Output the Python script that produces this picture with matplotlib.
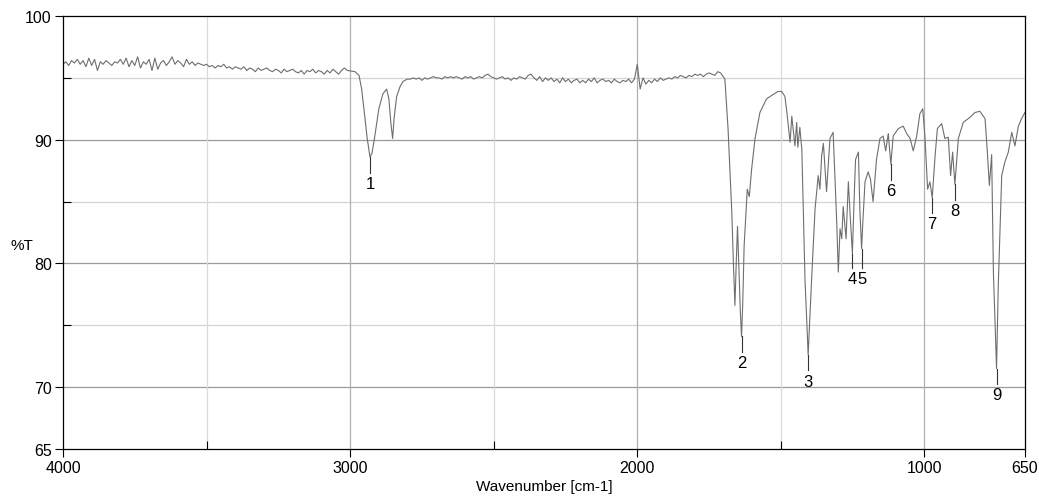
import numpy as np
import matplotlib
matplotlib.use('Agg')
import matplotlib.pyplot as plt
from matplotlib.ticker import MultipleLocator

plt.rcParams['font.family'] = ['Liberation Sans', 'DejaVu Sans']

# ---- spectrum data ----
# noisy baseline 4000 -> 3010 cm-1, 10 cm-1 steps
base_a_wn = np.arange(4000, 3000, -10)
base_a_t = [
    96.1, 96.3, 96.0, 96.4, 96.2, 96.5, 96.1, 96.4, 95.9, 96.6,
    96.0, 96.5, 95.6, 96.3, 96.1, 96.4, 96.2, 96.0, 96.3, 96.2,
    96.5, 96.1, 96.6, 95.9, 96.4, 96.0, 96.7, 95.8, 96.3, 96.1,
    96.5, 95.6, 96.6, 95.7, 96.2, 96.4, 96.0, 96.3, 96.7, 96.1,
    96.4, 96.2, 95.9, 96.5, 96.1, 96.3, 96.0, 96.2, 96.1, 96.0,
    96.1, 95.9, 96.0, 95.8, 96.0, 95.9, 96.1, 95.8, 95.9, 95.7,
    95.9, 95.8, 95.7, 95.9, 95.6, 95.8, 95.7, 95.5, 95.8, 95.6,
    95.7, 95.8, 95.6, 95.5, 95.7, 95.6, 95.4, 95.7, 95.5, 95.6,
    95.7, 95.5, 95.4, 95.6, 95.3, 95.6, 95.5, 95.7, 95.4, 95.6,
    95.5, 95.3, 95.6, 95.4, 95.7, 95.5, 95.3, 95.6, 95.8, 95.6,
]

# C-H stretch region
ch_wn = [2983, 2969, 2960, 2952, 2941, 2931, 2924, 2914, 2900, 2886,
         2873, 2865, 2858, 2852, 2847, 2838, 2826, 2816, 2802]
ch_t = [95.5, 95.2, 94.1, 92.5, 90.2, 88.6, 88.9, 90.3, 92.5, 93.7,
        94.1, 93.3, 91.3, 90.1, 91.7, 93.5, 94.3, 94.7, 94.9]

# flat baseline 2790 -> 1720 cm-1
base_b_wn = np.arange(2790, 1710, -10)
base_b_t = [
    94.9, 95.0, 94.9, 95.0, 94.8, 95.0, 94.9, 95.0, 95.1, 95.0,
    95.0, 94.9, 95.1, 95.0, 95.1, 95.0, 95.1, 95.0, 94.9, 95.1,
    95.0, 95.1, 94.9, 95.0, 95.1, 95.0, 95.2, 95.3, 95.1, 95.0,
    94.9, 95.0, 95.1, 94.9, 95.0, 94.8, 95.0, 94.9, 95.1, 95.0,
    94.9, 95.2, 95.3, 95.0, 94.8, 95.1, 94.7, 95.0, 94.8, 95.0,
    94.7, 94.9, 94.6, 95.0, 94.7, 94.9, 94.6, 94.8, 94.9, 94.6,
    94.8, 94.6, 94.9, 94.7, 95.0, 94.6, 94.8, 94.9, 94.7, 94.8,
    94.6, 94.9, 94.7, 94.6, 94.8, 94.7, 94.9, 94.6, 94.9, 96.1,
    94.1, 95.0, 94.5, 94.8, 94.6, 94.9, 94.7, 95.0, 94.8, 94.9,
    95.0, 94.9, 95.1, 95.0, 95.2, 95.1, 95.0, 95.2, 95.1, 95.3,
    95.2, 95.3, 95.1, 95.3, 95.4, 95.3, 95.2, 95.5,
]

# fingerprint region
fp_wn = [1710, 1695, 1684, 1671, 1665, 1660, 1655, 1651, 1646, 1641,
         1637, 1633, 1628, 1617, 1610, 1602, 1590, 1573, 1550, 1531,
         1510, 1497, 1486, 1479, 1468, 1462, 1451, 1445, 1441, 1434,
         1427, 1416, 1405, 1393, 1381, 1370, 1364, 1358, 1352, 1341,
         1329, 1318, 1306, 1300, 1294, 1288, 1283, 1273, 1265, 1259,
         1251, 1245, 1240, 1230, 1225, 1219, 1214, 1207, 1196, 1188,
         1179, 1167, 1155, 1144, 1135, 1126, 1117, 1109, 1091, 1074,
         1062, 1050, 1039, 1027, 1016, 1006, 998, 989, 981, 973,
         963, 955, 940, 929, 917, 909, 902, 894, 882, 865,
         842, 824, 807, 789, 781, 774, 766, 760, 749, 743,
         731, 720, 708, 696, 685, 673, 662, 650]
fp_t = [95.4, 94.9, 90.9, 84.2, 79.8, 76.6, 80.4, 83.0, 79.6, 76.0,
        74.1, 76.6, 81.4, 86.0, 85.4, 87.6, 90.1, 92.2, 93.3, 93.6,
        93.9, 93.9, 93.5, 92.2, 89.8, 91.9, 89.5, 91.4, 89.4, 91.0,
        89.2, 78.7, 72.6, 78.7, 84.4, 87.1, 86.0, 88.7, 89.7, 85.8,
        90.1, 90.6, 83.6, 79.3, 82.8, 82.0, 84.6, 82.0, 86.6, 84.0,
        80.8, 85.2, 88.4, 89.0, 84.4, 81.2, 83.6, 86.6, 87.4, 86.8,
        85.0, 88.4, 90.1, 90.3, 89.1, 90.5, 88.0, 90.3, 90.9, 91.1,
        90.5, 90.1, 89.1, 90.3, 92.1, 92.5, 90.1, 86.0, 86.6, 85.3,
        88.7, 90.9, 91.3, 90.1, 90.2, 87.1, 89.0, 86.4, 90.1, 91.4,
        91.8, 92.2, 92.3, 91.7, 89.0, 86.3, 88.8, 79.3, 71.5, 78.2,
        87.1, 88.2, 89.0, 90.6, 89.5, 91.1, 91.7, 92.2]

# numbered peaks (4 and 5 share one label row)
peak_no = ['1', '2', '3', '4', '5', '6', '7', '8', '9']
peak_wn = [2931, 1637, 1405, 1251, 1219, 1117, 973, 894, 749]
peak_t = [88.6, 74.1, 72.6, 80.8, 81.2, 88.0, 85.3, 86.4, 71.5]
label_t = [87.1, 72.6, 71.1, 79.4, 79.4, 86.5, 83.8, 84.9, 70.0]

wn = np.concatenate([base_a_wn, ch_wn, base_b_wn, fp_wn])
trans = np.concatenate([base_a_t, ch_t, base_b_t, fp_t])

# ---- figure ----
fig = plt.figure(figsize=(10.39, 5.02), dpi=100)
ax = fig.add_axes([0.0606, 0.1036, 0.9259, 0.8625])

ax.plot(wn, trans, color='#6e6e6e', lw=0.8)

for lab, w, t, lt in zip(peak_no, peak_wn, peak_t, label_t):
    ax.plot([w, w], [t, lt + 0.25], color='#333333', lw=0.8)
    ax.text(w, lt, lab, ha='center', va='top', fontsize=12)

ax.set_xlim(4000, 650)
ax.set_ylim(65, 100)
ax.set_xticks([4000, 3000, 2000, 1000, 650])
ax.set_xticklabels(['4000', '3000', '2000', '1000', '650'])
ax.set_yticks([65, 70, 80, 90, 100])
ax.set_yticklabels(['65', '70', '80', '90', '100'])
ax.xaxis.set_minor_locator(MultipleLocator(500))
ax.yaxis.set_minor_locator(MultipleLocator(5))

# grid: darker at labelled values, lighter in between
for v in [70, 80, 90]:
    ax.axhline(v, color='#9a9a9a', lw=0.9, zorder=0)
for v in [75, 85, 95]:
    ax.axhline(v, color='#d4d4d4', lw=0.9, zorder=0)
for v in [3000, 2000, 1000]:
    ax.axvline(v, color='#b0b0b0', lw=0.9, zorder=0)
for v in [3500, 2500, 1500]:
    ax.axvline(v, color='#dadada', lw=0.9, zorder=0)

ax.tick_params(which='major', direction='out', length=6, width=0.8, labelsize=11.5, pad=2)
ax.tick_params(which='minor', direction='in', length=6, width=0.8)
for s in ax.spines.values():
    s.set_linewidth(0.9)

ax.set_xlabel('Wavenumber [cm-1]', fontsize=11, labelpad=3)
fig.text(0.021, 0.51, '%T', fontsize=11, ha='center', va='center')

plt.savefig('out.png', dpi=100)
plt.close()
